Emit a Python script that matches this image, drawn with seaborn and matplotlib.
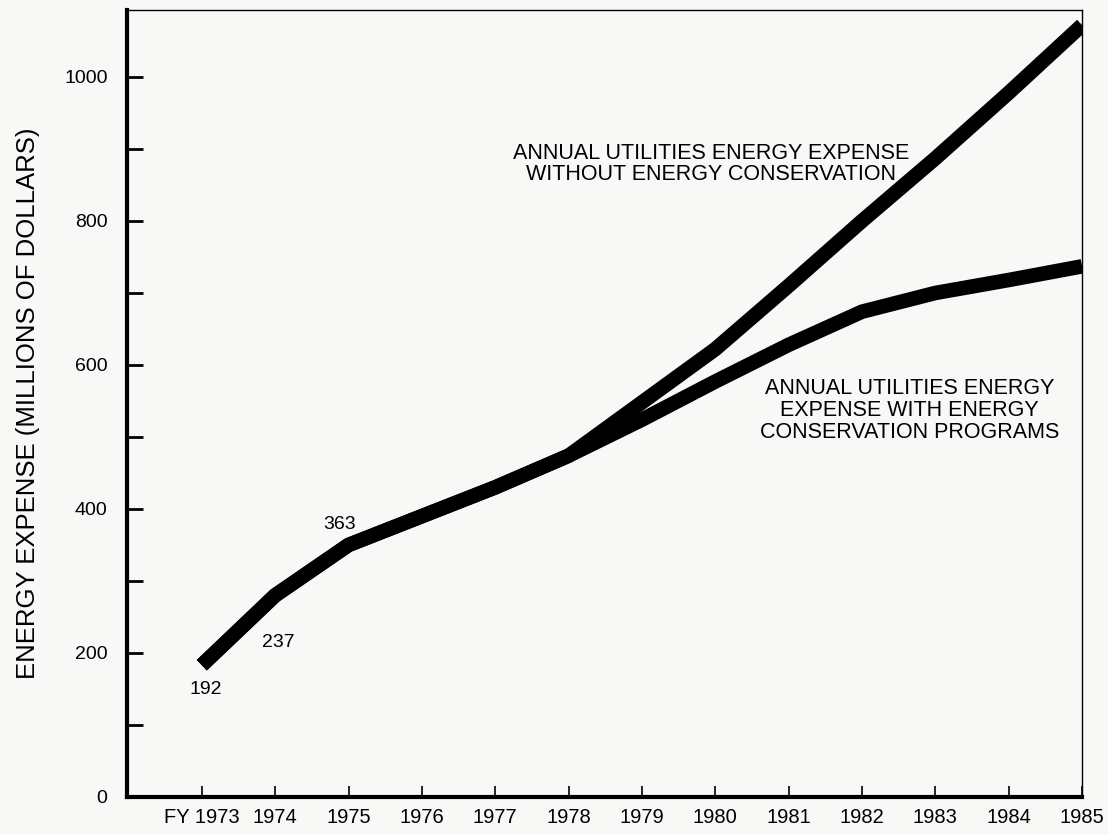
import numpy as np
import pandas as pd
import seaborn as sns
import matplotlib.pyplot as plt
from matplotlib.ticker import MultipleLocator

sns.set_style('ticks', rc={'text.color': 'black', 'axes.labelcolor': 'black',
                           'xtick.color': 'black', 'ytick.color': 'black'})
plt.rcParams['font.family'] = ['Liberation Sans', 'DejaVu Sans']

# values (millions of dollars)
years_common = [1973, 1974, 1975, 1976, 1977]
common = [183, 280, 350, 390, 430]
years_split = [1978, 1979, 1980, 1981, 1982, 1983, 1984, 1985]
without_cons = [474, 548, 622, 710, 800, 887, 978, 1072]
with_cons = [474, 524, 577, 628, 674, 700, 718, 737]

tick_years = list(range(1973, 1986))
tick_labels = ['FY 1973'] + [str(y) for y in tick_years[1:]]
point_labels = ['192', '237', '363']

df = pd.concat([
    pd.DataFrame({'year': years_common + years_split,
                  'expense': common + without_cons, 'series': 'without'}),
    pd.DataFrame({'year': years_common + years_split,
                  'expense': common + with_cons, 'series': 'with'}),
])

fig = plt.figure(figsize=(11.08, 8.34), dpi=100, facecolor='#f8f8f6')
ax = fig.add_axes([0.1146, 0.0444, 0.862, 0.9436])
ax.set_facecolor('#f8f8f6')

sns.lineplot(data=df, x='year', y='expense', units='series', estimator=None,
             color='black', linewidth=10.5, solid_capstyle='butt',
             solid_joinstyle='round', ax=ax)

ax.set_xlim(1971.98, 1985)
ax.set_ylim(0, 1093)
ax.set_xticks(tick_years)
ax.set_xticklabels(tick_labels)
ax.yaxis.set_major_locator(MultipleLocator(200))
ax.yaxis.set_minor_locator(MultipleLocator(100))
ax.tick_params(axis='y', which='both', direction='in', length=11.5, width=2,
               pad=14, labelsize=14)
ax.tick_params(axis='x', direction='in', length=8, width=1.2, pad=8,
               labelsize=14.5)
ax.set_xlabel('')
ax.set_ylabel('ENERGY EXPENSE (MILLIONS OF DOLLARS)', fontsize=18.5,
              labelpad=17)

for side, lw in [('left', 3), ('bottom', 3), ('top', 1), ('right', 1)]:
    ax.spines[side].set_visible(True)
    ax.spines[side].set_linewidth(lw)
    ax.spines[side].set_color('black')

# point labels
ax.text(1973.05, 149, point_labels[0], ha='center', va='center', fontsize=14)
ax.text(1974.04, 215, point_labels[1], ha='center', va='center', fontsize=14)
ax.text(1974.88, 379, point_labels[2], ha='center', va='center', fontsize=14)

ax.text(1979.94, 879, 'ANNUAL UTILITIES ENERGY EXPENSE\nWITHOUT ENERGY CONSERVATION',
        ha='center', va='center', fontsize=15.5, linespacing=0.95)
ax.text(1982.65, 537, 'ANNUAL UTILITIES ENERGY\nEXPENSE WITH ENERGY\nCONSERVATION PROGRAMS',
        ha='center', va='center', fontsize=15.5, linespacing=1.05)

fig.savefig('out.png', dpi=100, facecolor=fig.get_facecolor())
